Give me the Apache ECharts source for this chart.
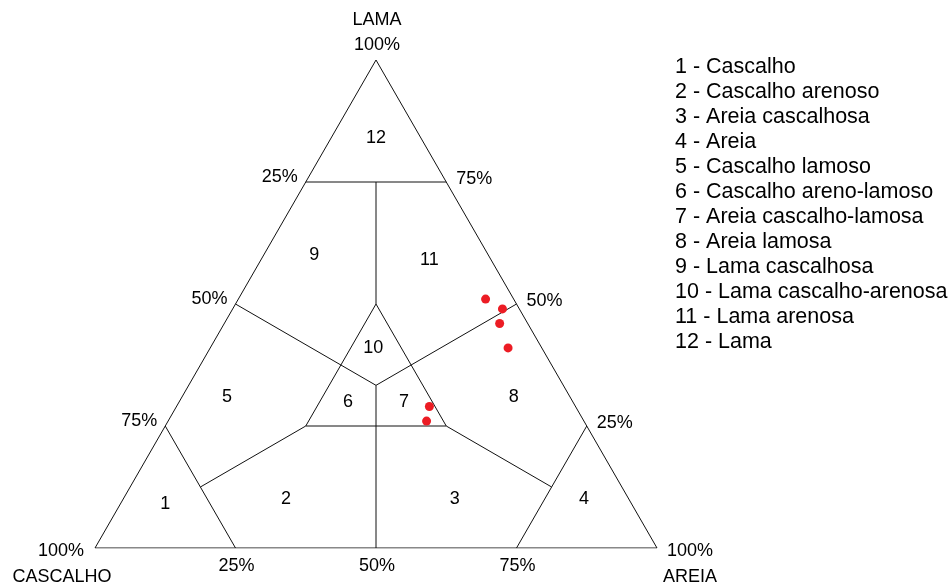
<!DOCTYPE html>
<html>
<head>
<meta charset="utf-8">
<script src="https://cdn.jsdelivr.net/npm/echarts@6/dist/echarts.min.js"></script>
<style>
  html, body { margin: 0; padding: 0; background: #fff; }
  #chart { width: 952px; height: 583px; }
</style>
</head>
<body>
<div id="chart"></div>
<script>
// Ternary compositions are [cascalho, areia, lama] fractions.

// Sample compositions
const samples = [
  [0.05, 0.44, 0.51],
  [0.03, 0.48, 0.49],
  [0.05, 0.49, 0.46],
  [0.06, 0.53, 0.41],
  [0.26, 0.45, 0.29],
  [0.28, 0.46, 0.26]
];

// Class boundaries (polylines)
const boundaries = [
  [[1, 0, 0], [0, 1, 0], [0, 0, 1], [1, 0, 0]],
  [[0.25, 0, 0.75], [0, 0.25, 0.75]],
  [[0.125, 0.125, 0.75], [0.25, 0.25, 0.5]],
  [[0.25, 0.25, 0.5], [0.5, 0.25, 0.25], [0.25, 0.5, 0.25], [0.25, 0.25, 0.5]],
  [[0.5, 0, 0.5], [1 / 3, 1 / 3, 1 / 3]],
  [[0, 0.5, 0.5], [1 / 3, 1 / 3, 1 / 3]],
  [[1 / 3, 1 / 3, 1 / 3], [0.5, 0.5, 0]],
  [[0.5, 0.25, 0.25], [0.75, 0.125, 0.125]],
  [[0.25, 0.5, 0.25], [0.125, 0.75, 0.125]],
  [[0.75, 0, 0.25], [0.75, 0.25, 0]],
  [[0, 0.75, 0.25], [0.25, 0.75, 0]]
];

// Class numbers and where they sit
const classIds = ['12', '9', '11', '10', '5', '6', '7', '8', '1', '2', '3', '4'];
const classAt = [
  [0.08, 0.08, 0.84],
  [0.31, 0.09, 0.60],
  [0.11, 0.30, 0.59],
  [0.30, 0.29, 0.41],
  [0.61, 0.08, 0.31],
  [0.40, 0.30, 0.30],
  [0.30, 0.40, 0.30],
  [0.10, 0.59, 0.31],
  [0.83, 0.08, 0.09],
  [0.61, 0.29, 0.10],
  [0.31, 0.59, 0.10],
  [0.08, 0.82, 0.10]
];

// Class names
const classNames = [
  '1 - Cascalho',
  '2 - Cascalho arenoso',
  '3 - Areia cascalhosa',
  '4 - Areia',
  '5 - Cascalho lamoso',
  '6 - Cascalho areno-lamoso',
  '7 - Areia cascalho-lamosa',
  '8 - Areia lamosa',
  '9 - Lama cascalhosa',
  '10 - Lama cascalho-arenosa',
  '11 - Lama arenosa',
  '12 - Lama'
];

// Edge tick labels
const leftTickLabels = ['25%', '50%', '75%', '100%'];
const leftTickAt = [[0.25, 0, 0.75], [0.5, 0, 0.5], [0.75, 0, 0.25], [1, 0, 0]];
const rightTickLabels = ['75%', '50%', '25%', '100%'];
const rightTickAt = [[0, 0.25, 0.75], [0, 0.5, 0.5], [0, 0.75, 0.25], [0, 1, 0]];
const bottomTickLabels = ['25%', '50%', '75%'];
const bottomTickAt = [[0.75, 0.25, 0], [0.5, 0.5, 0], [0.25, 0.75, 0]];
const apexLabels = ['LAMA', 'CASCALHO', 'AREIA'];
const apexAt = [[0, 0, 1], [1, 0, 0], [0, 1, 0]];

// ternary -> cartesian (unit-height triangle, x scaled by grid aspect)
function tern(p) {
  const s = p[1], m = p[2];
  return [s + m / 2, m];
}

const FONT = 'Liberation Sans, Arial, sans-serif';
const TXT = '#000';
const FS = 18;

const series = [];

boundaries.forEach(function (poly, i) {
  series.push({
    type: 'line',
    name: 'b' + i,
    data: poly.map(tern),
    symbol: 'none',
    silent: true,
    lineStyle: { color: '#111', width: 1 },
    z: 2
  });
});

function textSeries(name, data, label) {
  return {
    type: 'scatter',
    name: name,
    symbolSize: 0,
    silent: true,
    itemStyle: { opacity: 1 },
    data: data,
    label: Object.assign({
      show: true, fontFamily: FONT, fontSize: FS, color: TXT
    }, label),
    z: 3
  };
}

series.push(textSeries('classes',
  classAt.map(function (p, i) {
    return { value: tern(p), label: { formatter: classIds[i] } };
  }),
  { position: 'inside', fontSize: 18 }));

// corner ticks (100%) sit a little lower than the edge ticks
function ticks(at, labels, cornerOffset) {
  return at.map(function (p, i) {
    const item = { value: tern(p), label: { formatter: labels[i] } };
    if (labels[i] === '100%' && cornerOffset) item.label.offset = cornerOffset;
    return item;
  });
}

series.push(textSeries('leftTicks', ticks(leftTickAt, leftTickLabels, [-11, 3]),
  { position: 'left', distance: 0, offset: [-8, -5] }));
series.push(textSeries('rightTicks', ticks(rightTickAt, rightTickLabels, [10, 3]),
  { position: 'right', distance: 0, offset: [10, -3] }));
series.push(textSeries('bottomTicks', ticks(bottomTickAt, bottomTickLabels),
  { position: 'bottom', distance: 0, offset: [1, 9] }));

series.push(textSeries('apex', [
  { value: tern(apexAt[0]), label: { formatter: '100%', offset: [1, -15] } },
  { value: tern(apexAt[0]), label: { formatter: apexLabels[0], offset: [1, -40] } },
  { value: tern(apexAt[1]), label: { formatter: apexLabels[1], offset: [-33, 29] } },
  { value: tern(apexAt[2]), label: { formatter: apexLabels[2], offset: [33, 29] } }
], { position: 'inside' }));

series.push({
  type: 'scatter',
  name: 'amostras',
  data: samples.map(tern),
  symbol: 'circle',
  symbolSize: 9,
  itemStyle: { color: '#ec1c24', opacity: 1 },
  z: 4
});

const chart = echarts.init(document.getElementById('chart'), null, { renderer: 'canvas' });
chart.setOption({
  animation: false,
  backgroundColor: '#fff',
  grid: { left: 95, top: 60, width: 562, height: 488 },
  xAxis: { type: 'value', min: 0, max: 1, show: false },
  yAxis: { type: 'value', min: 0, max: 1, show: false },
  graphic: classNames.map(function (t, i) {
    return {
      type: 'text',
      left: 675,
      top: 56 + i * 25,
      style: { text: t, fontFamily: FONT, fontSize: 21.5, fill: '#000' }
    };
  }),
  series: series
});
</script>
</body>
</html>
